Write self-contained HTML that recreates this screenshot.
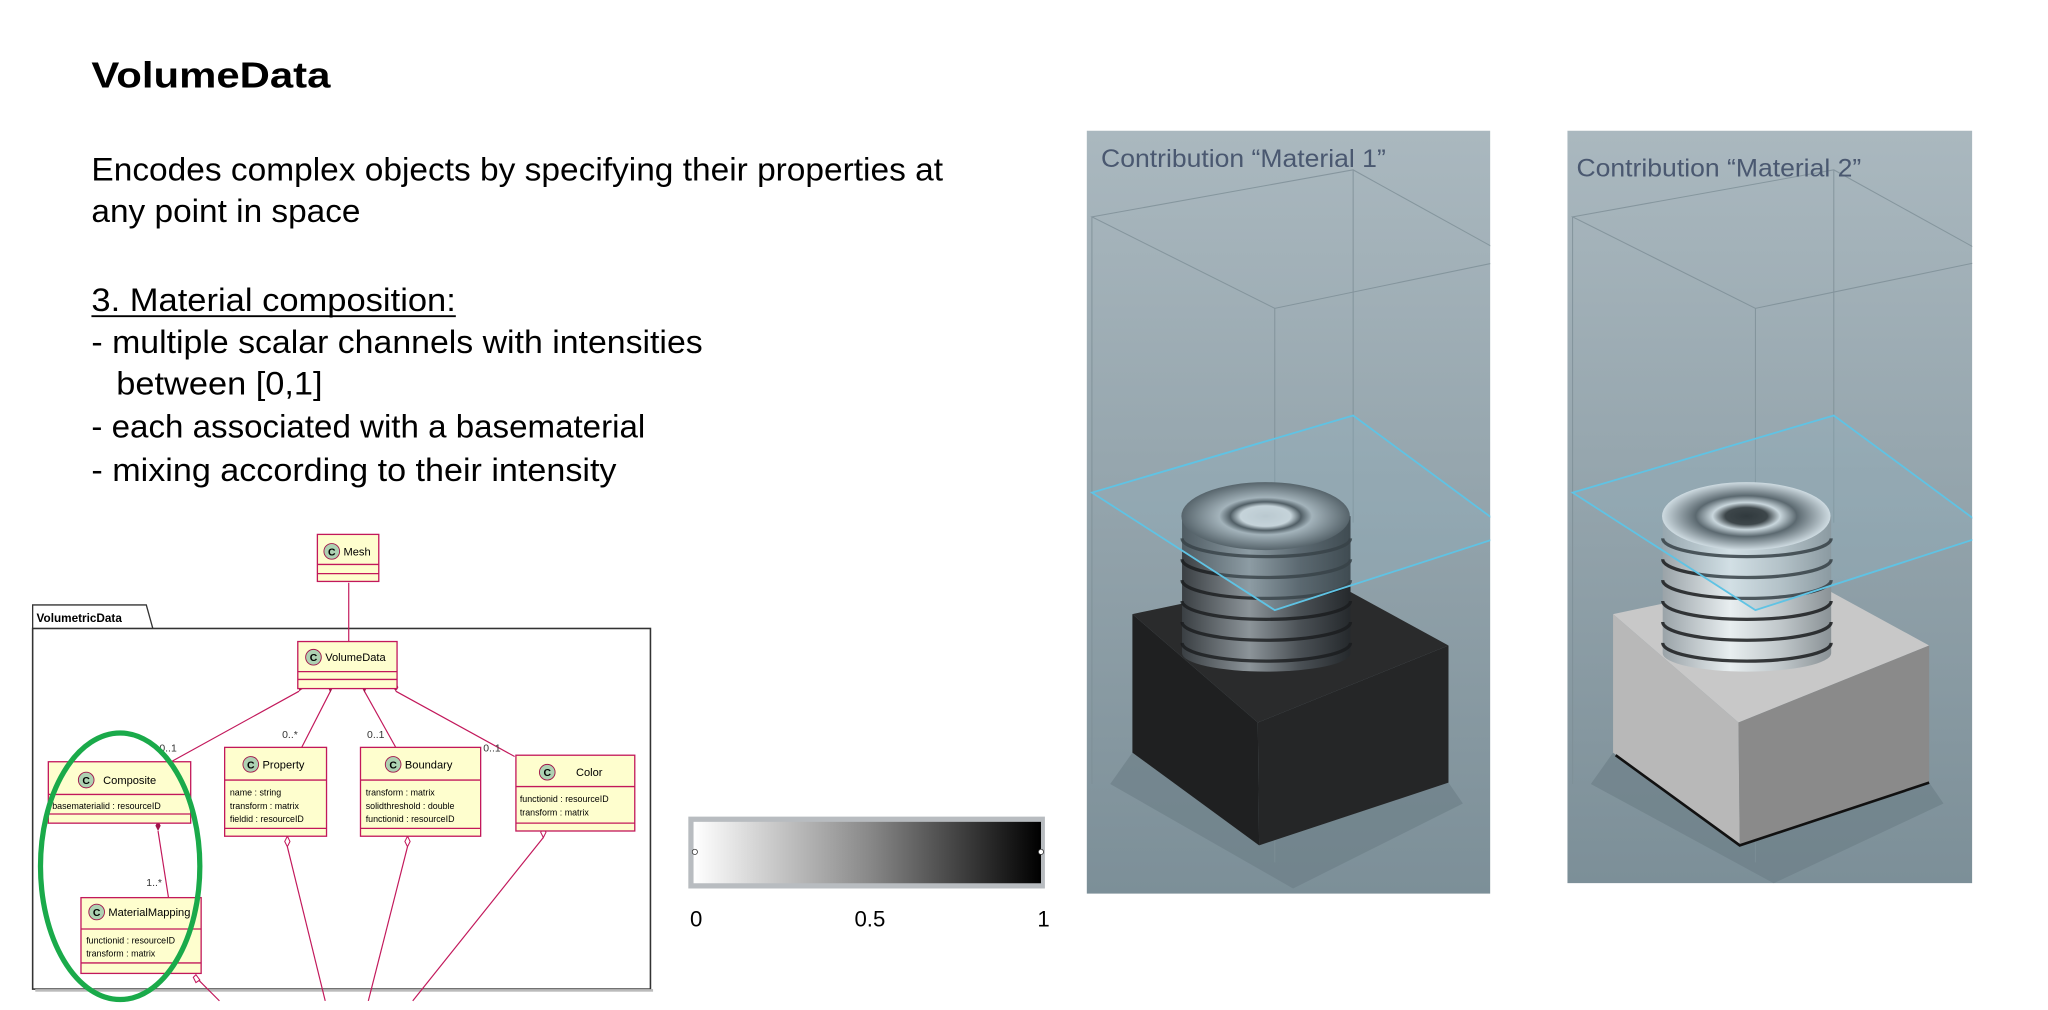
<!DOCTYPE html>
<html><head><meta charset="utf-8"><style>
html,body{margin:0;padding:0;background:#fff;}
svg{display:block;}
.t{font-family:"Liberation Sans Narrow","Liberation Sans",sans-serif;fill:#000;}
.u{font-family:"Liberation Sans",sans-serif;}
</style></head><body>
<svg width="2048" height="1010" viewBox="0 0 1568 773" preserveAspectRatio="none" xmlns="http://www.w3.org/2000/svg">
<defs>
<linearGradient id="bg" x1="0" y1="0" x2="0" y2="1"><stop offset="0" stop-color="#aab8bf"/><stop offset="1" stop-color="#7c8f98"/></linearGradient>
<linearGradient id="cb" x1="0" y1="0" x2="1" y2="0"><stop offset="0" stop-color="#fff"/><stop offset="0.5" stop-color="#8a8a8a"/><stop offset="1" stop-color="#000"/></linearGradient>
<linearGradient id="cyl1" x1="0" y1="0" x2="1" y2="0"><stop offset="0" stop-color="#3a3f43"/><stop offset="0.4" stop-color="#8c9499"/><stop offset="0.7" stop-color="#4a5055"/><stop offset="1" stop-color="#25292c"/></linearGradient>
<linearGradient id="cyl2" x1="0" y1="0" x2="1" y2="0"><stop offset="0" stop-color="#9aa3a8"/><stop offset="0.4" stop-color="#e8eef0"/><stop offset="0.7" stop-color="#c0c7ca"/><stop offset="1" stop-color="#8a9296"/></linearGradient>
<radialGradient id="top1"><stop offset="0" stop-color="#c8d0d4"/><stop offset="0.3" stop-color="#d8dfe2"/><stop offset="0.42" stop-color="#3c4246"/><stop offset="0.55" stop-color="#aab3b8"/><stop offset="1" stop-color="#444a4e"/></radialGradient>
<radialGradient id="top2"><stop offset="0" stop-color="#111"/><stop offset="0.25" stop-color="#222"/><stop offset="0.4" stop-color="#dde3e6"/><stop offset="0.6" stop-color="#4a5054"/><stop offset="1" stop-color="#e4e9ec"/></radialGradient>
<clipPath id="c1"><rect x="832" y="100" width="309" height="584"/></clipPath>
<clipPath id="c2"><rect x="832" y="100" width="310" height="576"/></clipPath>
</defs>

<text class="t" x="70" y="67" font-size="28" font-weight="bold" textLength="183" lengthAdjust="spacingAndGlyphs">VolumeData</text>
<g class="t" font-size="25">
<text x="70" y="138" textLength="652" lengthAdjust="spacingAndGlyphs">Encodes complex objects by specifying their properties at</text>
<text x="70" y="170" textLength="206" lengthAdjust="spacingAndGlyphs">any point in space</text>
<text x="70" y="238" textLength="279" lengthAdjust="spacingAndGlyphs">3. Material composition:</text>
<text x="70" y="270" textLength="468" lengthAdjust="spacingAndGlyphs">- multiple scalar channels with intensities</text>
<text x="89" y="302" textLength="158" lengthAdjust="spacingAndGlyphs">between [0,1]</text>
<text x="70" y="335" textLength="424" lengthAdjust="spacingAndGlyphs">- each associated with a basematerial</text>
<text x="70" y="368" textLength="402" lengthAdjust="spacingAndGlyphs">- mixing according to their intensity</text>
</g>
<line x1="70" y1="242" x2="349" y2="242" stroke="#000" stroke-width="1.5"/>

<g class="u">
<path d="M25,481 L25,463 L112,463 L117,481" fill="#fff" stroke="#333" stroke-width="1"/>
<text x="28" y="476" font-size="9" font-weight="bold">VolumetricData</text>
<rect x="25" y="481" width="473" height="276" fill="none" stroke="#333" stroke-width="1.2"/>
<rect x="27" y="757" width="473" height="2" fill="#bbb"/>
<g stroke="#c2185b" stroke-width="0.9" fill="none">
<line x1="267" y1="446" x2="267" y2="491"/>
<line x1="229" y1="529" x2="131" y2="583"/>
<line x1="253" y1="529" x2="231" y2="572"/>
<line x1="279" y1="529" x2="303" y2="572"/>
<line x1="303" y1="529" x2="394" y2="579"/>
<line x1="121" y1="636" x2="129" y2="687"/>
<line x1="220" y1="648" x2="249" y2="766"/>
<line x1="312" y1="648" x2="282" y2="766"/>
<line x1="416" y1="641" x2="316" y2="766"/>
<line x1="150" y1="748" x2="168" y2="766"/>
</g>
<g fill="#a0154a">
<path d="M267,445 l-2,-4 l2,-4 l2,4z"/>
<path d="M229,529 l0,-5 l4,-1 l-1,4z"/>
<path d="M253,530 l-2,-4 l2,-4 l2,4z"/>
<path d="M279,530 l-2,-4 l2,-4 l2,4z"/>
<path d="M303,529 l-3,-4 l3,-3 l2,4z"/>
<path d="M121,636 l-2,-4 l2,-4 l2,4z"/>
</g>
<g fill="#fff" stroke="#c2185b" stroke-width="0.8">
<path d="M220,640 l-2,4 l2,4 l2,-4z"/>
<path d="M312,640 l-2,4 l2,4 l2,-4z"/>
<path d="M416,633 l-2,4 l2,4 l2,-4z"/>
<path d="M150,746 l-2,2 l2,4 l3,-2z"/>
</g>
<g font-size="8" fill="#333">
<text x="122" y="575">0..1</text><text x="216" y="565">0..*</text>
<text x="281" y="565">0..1</text><text x="370" y="575">0..1</text>
<text x="112" y="678">1..*</text>
</g>
<g stroke="#c2185b" stroke-width="1" fill="#fefece">
<rect x="243" y="409" width="47" height="36"/><line x1="243" y1="432" x2="290" y2="432"/><line x1="243" y1="439" x2="290" y2="439"/>
<rect x="228" y="491" width="76" height="36"/><line x1="228" y1="514" x2="304" y2="514"/><line x1="228" y1="520" x2="304" y2="520"/>
<rect x="37" y="583" width="109" height="47"/><line x1="37" y1="608" x2="146" y2="608"/><line x1="37" y1="623" x2="146" y2="623"/>
<rect x="172" y="572" width="78" height="68"/><line x1="172" y1="597" x2="250" y2="597"/><line x1="172" y1="634" x2="250" y2="634"/>
<rect x="276" y="572" width="92" height="68"/><line x1="276" y1="597" x2="368" y2="597"/><line x1="276" y1="634" x2="368" y2="634"/>
<rect x="395" y="578" width="91" height="58"/><line x1="395" y1="602" x2="486" y2="602"/><line x1="395" y1="630" x2="486" y2="630"/>
<rect x="62" y="687" width="92" height="58"/><line x1="62" y1="711" x2="154" y2="711"/><line x1="62" y1="737" x2="154" y2="737"/>
</g>
<g fill="#add1b2" stroke="#a0154a" stroke-width="0.7">
<circle cx="254" cy="422" r="6"/><circle cx="240" cy="503" r="6"/><circle cx="66" cy="597" r="6"/>
<circle cx="192" cy="585" r="6"/><circle cx="301" cy="585" r="6"/><circle cx="419" cy="591" r="6"/><circle cx="74" cy="698" r="6"/>
</g>
<g font-size="8" font-weight="bold" fill="#000" text-anchor="middle">
<text x="254" y="425">C</text><text x="240" y="506">C</text><text x="66" y="600">C</text>
<text x="192" y="588">C</text><text x="301" y="588">C</text><text x="419" y="594">C</text><text x="74" y="701">C</text>
</g>
<g font-size="8.5" fill="#000">
<text x="263" y="425">Mesh</text><text x="249" y="506">VolumeData</text><text x="79" y="600">Composite</text>
<text x="201" y="588">Property</text><text x="310" y="588">Boundary</text><text x="441" y="594">Color</text><text x="83" y="701">MaterialMapping</text>
</g>
<g font-size="6.8" fill="#000">
<text x="40" y="619">basematerialid : resourceID</text>
<text x="176" y="609">name : string</text><text x="176" y="619">transform : matrix</text><text x="176" y="629">fieldid : resourceID</text>
<text x="280" y="609">transform : matrix</text><text x="280" y="619">solidthreshold : double</text><text x="280" y="629">functionid : resourceID</text>
<text x="398" y="614">functionid : resourceID</text><text x="398" y="624">transform : matrix</text>
<text x="66" y="722">functionid : resourceID</text><text x="66" y="732">transform : matrix</text>
</g>
<ellipse cx="92" cy="663" rx="61" ry="102" fill="none" stroke="#1aaa4a" stroke-width="4"/>
</g>

<rect x="527" y="625" width="273" height="55" fill="#b8bcc0"/>
<rect x="531" y="629" width="266" height="47" fill="url(#cb)"/>
<circle cx="532" cy="652" r="2" fill="#fff" stroke="#333" stroke-width="0.6"/>
<circle cx="797" cy="652" r="2" fill="#fff" stroke="#333" stroke-width="0.6"/>
<g font-family="Liberation Sans,sans-serif" font-size="17" fill="#000" text-anchor="middle">
<text x="533" y="709">0</text><text x="666" y="709">0.5</text><text x="799" y="709">1</text>
</g>

<g clip-path="url(#c1)">
<rect x="832" y="100" width="309" height="584" fill="url(#bg)"/>
<path d="M867,576 L964,647 L1109,599 L1120,615 L990,680 L850,600 Z" fill="#6b7d86" opacity="0.6"/>
<g stroke="#7d8e96" stroke-width="0.8" fill="none" opacity="0.8">
<path d="M836,166 L1036,130 L1159,198 L976,236 Z"/>
<line x1="836" y1="166" x2="836" y2="600"/><line x1="976" y1="236" x2="976" y2="660"/><line x1="1036" y1="130" x2="1036" y2="400"/>
</g>
<path d="M867,470 L1010,440 L1109,494 L963,553 Z" fill="#2a2b2c"/>
<path d="M867,470 L963,553 L964,647 L867,576 Z" fill="#1f2021"/>
<path d="M963,553 L1109,494 L1109,599 L964,647 Z" fill="#252627"/>
<path d="M905,395 L905,500 A64.5,14 0 0 0 1034,500 L1034,395 Z" fill="url(#cyl1)"/>
<g stroke="#1a1c1e" stroke-width="2.5" fill="none" opacity="0.8">
<path d="M905,412 A64.5,14 0 0 0 1034,412"/><path d="M905,428 A64.5,14 0 0 0 1034,428"/><path d="M905,444 A64.5,14 0 0 0 1034,444"/><path d="M905,460 A64.5,14 0 0 0 1034,460"/><path d="M905,476 A64.5,14 0 0 0 1034,476"/><path d="M905,492 A64.5,14 0 0 0 1034,492"/>
</g>
<ellipse cx="969" cy="395" rx="64.5" ry="26" fill="url(#top1)"/>
<path d="M836,377 L1036,318 L1158,408 L976,467 Z" fill="#8fb3c4" fill-opacity="0.25" stroke="#5fc3e4" stroke-width="1.4"/>
<text x="843" y="128" font-family="Liberation Sans,sans-serif" font-size="19" fill="#4a5870" textLength="218" lengthAdjust="spacingAndGlyphs">Contribution “Material 1”</text>
</g>
<g transform="translate(368,0)">
<g clip-path="url(#c2)">
<rect x="832" y="100" width="310" height="576" fill="url(#bg)"/>
<path d="M867,576 L964,647 L1109,599 L1120,615 L990,676 L850,600 Z" fill="#6b7d86" opacity="0.6"/>
<g stroke="#7d8e96" stroke-width="0.8" fill="none" opacity="0.8">
<path d="M836,166 L1036,130 L1159,198 L976,236 Z"/>
<line x1="836" y1="166" x2="836" y2="600"/><line x1="976" y1="236" x2="976" y2="660"/><line x1="1036" y1="130" x2="1036" y2="400"/>
</g>
<path d="M867,470 L1010,440 L1109,494 L963,553 Z" fill="#c8c8c8"/>
<path d="M867,470 L963,553 L964,647 L867,576 Z" fill="#b8b8b8"/>
<path d="M963,553 L1109,494 L1109,599 L964,647 Z" fill="#8a8a8a"/>
<path d="M869,578 L964,647 L1109,599" fill="none" stroke="#111" stroke-width="2"/>
<path d="M905,395 L905,500 A64.5,14 0 0 0 1034,500 L1034,395 Z" fill="url(#cyl2)"/>
<g stroke="#1a1c1e" stroke-width="2.5" fill="none" opacity="0.85">
<path d="M905,412 A64.5,14 0 0 0 1034,412"/><path d="M905,428 A64.5,14 0 0 0 1034,428"/><path d="M905,444 A64.5,14 0 0 0 1034,444"/><path d="M905,460 A64.5,14 0 0 0 1034,460"/><path d="M905,476 A64.5,14 0 0 0 1034,476"/><path d="M905,492 A64.5,14 0 0 0 1034,492"/>
</g>
<ellipse cx="969" cy="395" rx="64.5" ry="26" fill="url(#top2)"/>
<path d="M836,377 L1036,318 L1158,408 L976,467 Z" fill="#8fb3c4" fill-opacity="0.25" stroke="#5fc3e4" stroke-width="1.4"/>
<text x="839" y="135" font-family="Liberation Sans,sans-serif" font-size="19" fill="#4a5870" textLength="218" lengthAdjust="spacingAndGlyphs">Contribution “Material 2”</text>
</g>
</g>
</svg>
</body></html>
